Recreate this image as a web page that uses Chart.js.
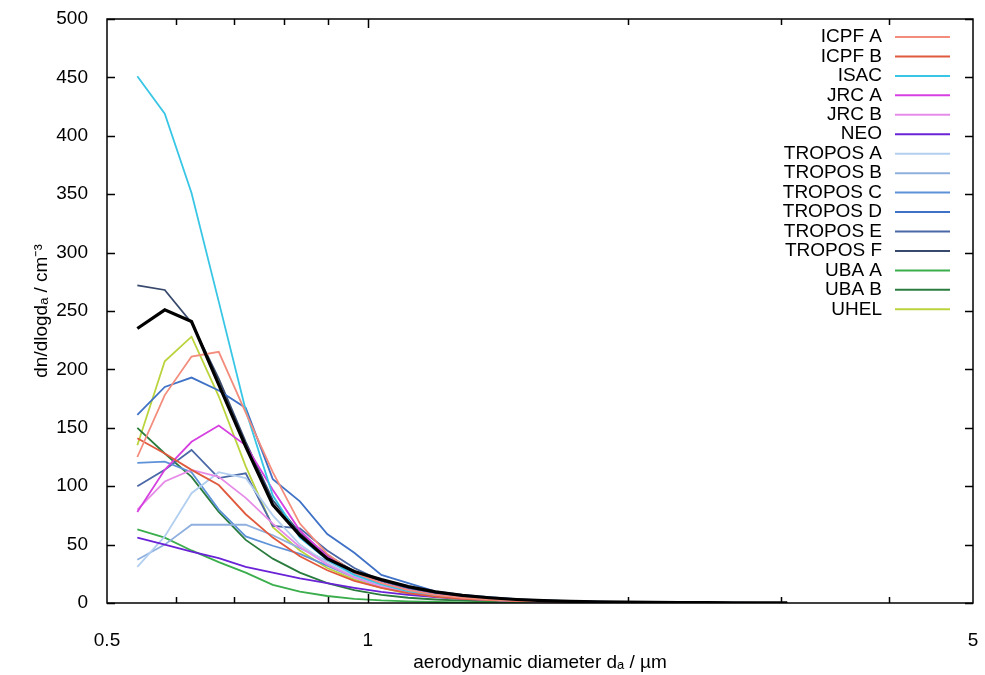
<!DOCTYPE html>
<html>
<head>
<meta charset="utf-8">
<script src="https://cdn.jsdelivr.net/npm/chart.js@4.4.1/dist/chart.umd.min.js"></script>
<style>
  html, body { margin: 0; padding: 0; background: #fff; }
  canvas { display: block; }
</style>
</head>
<body>
<canvas id="c" width="985" height="675"></canvas>
<script>
// aerodynamic diameter (APS channel midpoints), um
const diameters = [0.542, 0.583, 0.626, 0.673, 0.723, 0.777, 0.835, 0.898, 0.965, 1.037, 1.114, 1.197, 1.286,
  1.382, 1.486, 1.596, 1.715, 1.843, 1.981, 2.129, 2.288, 2.458, 2.642, 2.839, 3.051];

const icpfA   = [125, 178, 211, 215, 163, 112, 68, 42, 26, 17, 11, 7, 4.5, 3, 2, 1.4, 1, 0.7, 0.5, 0.4, 0.3, 0.2, 0.15, 0.1, 0.1];
const icpfB   = [141, 128, 114, 101, 76, 56, 40, 28, 19, 13, 8.5, 5.5, 3.6, 2.4, 1.6, 1.1, 0.8, 0.6, 0.4, 0.3, 0.2, 0.15, 0.1, 0.1, 0.05];
const isac    = [451, 419, 351, 258, 165, 92, 56, 37, 24, 16, 10, 6.5, 4.2, 2.8, 1.9, 1.3, 0.9, 0.6, 0.45, 0.3, 0.2, 0.15, 0.1, 0.1, 0.05];
const jrcA    = [78, 114, 138, 152, 135, 97, 62, 40, 26, 17, 11, 7, 4.5, 3, 2, 1.3, 0.9, 0.6, 0.45, 0.3, 0.2, 0.15, 0.1, 0.1, 0.05];
const jrcB    = [80, 104, 114, 108, 90, 68, 48, 33, 22, 14, 9, 6, 4, 2.6, 1.7, 1.2, 0.8, 0.6, 0.4, 0.3, 0.2, 0.15, 0.1, 0.1, 0.05];
const neo     = [56, 50, 44, 38.5, 31, 26, 21, 17, 13, 9.5, 7, 5, 3.5, 2.5, 1.8, 1.3, 0.9, 0.6, 0.45, 0.3, 0.2, 0.15, 0.1, 0.1, 0.05];
const troposA = [31, 57, 94, 112, 107, 75, 50, 34, 23, 15, 10, 6.5, 4.2, 2.8, 1.9, 1.3, 0.9, 0.6, 0.4, 0.3, 0.2, 0.15, 0.1, 0.1, 0.05];
const troposB = [37, 50, 67, 67, 67, 58, 47, 36, 25, 17, 11, 7, 4.6, 3, 2, 1.4, 1, 0.7, 0.5, 0.35, 0.25, 0.2, 0.15, 0.1, 0.05];
const troposC = [120, 121, 112, 80, 57, 49, 42, 32, 22, 14, 9, 6, 4, 2.7, 1.8, 1.2, 0.8, 0.6, 0.4, 0.3, 0.2, 0.15, 0.1, 0.1, 0.05];
const troposD = [161, 185, 193, 182, 167, 106, 87, 59, 43, 24, 17, 10, 7, 5, 3.4, 2.3, 1.6, 1.1, 0.8, 0.5, 0.35, 0.25, 0.2, 0.15, 0.1];
const troposE = [100, 114, 131, 107, 111, 66, 64, 45, 30, 19, 12, 8, 5, 3.4, 2.3, 1.5, 1, 0.7, 0.5, 0.35, 0.25, 0.2, 0.15, 0.1, 0.05];
const troposF = [272, 268, 240, 192, 138, 88, 60, 41, 27, 19, 13, 8.5, 5.7, 3.8, 2.6, 1.8, 1.2, 0.85, 0.6, 0.4, 0.3, 0.2, 0.15, 0.1, 0.05];
const ubaA    = [63, 56, 45, 35, 26, 15.5, 9.7, 6, 3.6, 2.2, 1.4, 0.9, 0.6, 0.4, 0.3, 0.2, 0.15, 0.1, 0.1, 0.05, 0.05, 0.03, 0.02, 0.02, 0.01];
const ubaB    = [150, 128, 108, 78, 54, 38, 26, 17, 11, 7, 4.5, 3, 2, 1.3, 0.9, 0.6, 0.4, 0.3, 0.2, 0.15, 0.1, 0.07, 0.05, 0.03, 0.02];
const uhel    = [135, 207, 228, 177, 117, 65, 45, 30, 20, 13, 8, 5.2, 3.4, 2.3, 1.5, 1, 0.7, 0.5, 0.35, 0.25, 0.2, 0.15, 0.1, 0.07, 0.05];
const mean    = [235, 251, 241, 187, 134, 84, 58, 38, 27, 20, 14, 9.5, 6.5, 4.5, 3, 2, 1.4, 1, 0.7, 0.5, 0.35, 0.25, 0.2, 0.15, 0.1];

const seriesNames = ['ICPF A', 'ICPF B', 'ISAC', 'JRC A', 'JRC B', 'NEO', 'TROPOS A', 'TROPOS B', 'TROPOS C',
  'TROPOS D', 'TROPOS E', 'TROPOS F', 'UBA A', 'UBA B', 'UHEL'];
const seriesValues = [icpfA, icpfB, isac, jrcA, jrcB, neo, troposA, troposB, troposC,
  troposD, troposE, troposF, ubaA, ubaB, uhel];
const seriesColors = ['#f38c7c', '#e05a3e', '#38c6e6', '#d640e0', '#e68ce8', '#6a22d6', '#b3cff0', '#8fb0de',
  '#5e92d8', '#3f72c6', '#4a68a6', '#37496c', '#3aad4c', '#2a7c3e', '#bbd33c'];

const yTicks = [0, 50, 100, 150, 200, 250, 300, 350, 400, 450, 500];
const xTickMarks = [0.6, 0.7, 0.8, 0.9, 1, 2, 3, 4];
const xLabels = [0.5, 1, 5];

const FONT = "'Liberation Sans', Arial, Helvetica, sans-serif";

const datasets = seriesNames.map((name, i) => ({
  label: name,
  data: diameters.map((d, j) => ({ x: d, y: seriesValues[i][j] })),
  borderColor: seriesColors[i],
  borderWidth: 1.8,
  pointRadius: 0,
  tension: 0,
  fill: false
}));
datasets.push({
  label: 'mean',
  data: diameters.map((d, j) => ({ x: d, y: mean[j] })),
  borderColor: '#000',
  borderWidth: 3.2,
  pointRadius: 0,
  tension: 0,
  fill: false,
  order: -1
});

// box, inward ticks and the legend inside the plot
const framePlugin = {
  id: 'frame',
  afterDraw(chart) {
    const { ctx, chartArea: a, scales: { x, y } } = chart;
    ctx.save();
    ctx.strokeStyle = '#000';
    ctx.lineWidth = 1.5;
    ctx.strokeRect(a.left, a.top, a.right - a.left, a.bottom - a.top);
    ctx.beginPath();
    yTicks.forEach(v => {
      const py = Math.round(y.getPixelForValue(v)) + 0.5;
      ctx.moveTo(a.left, py); ctx.lineTo(a.left + 8, py);
      ctx.moveTo(a.right, py); ctx.lineTo(a.right - 8, py);
    });
    xTickMarks.forEach(v => {
      const px = Math.round(x.getPixelForValue(v)) + 0.5;
      const len = v === 1 ? 9 : 6;
      ctx.moveTo(px, a.bottom); ctx.lineTo(px, a.bottom - len);
      ctx.moveTo(px, a.top); ctx.lineTo(px, a.top + len);
    });
    ctx.stroke();

    ctx.font = '19px ' + FONT;
    ctx.textAlign = 'right';
    ctx.textBaseline = 'middle';
    seriesNames.forEach((name, i) => {
      const ly = 37 + i * 19.45;
      ctx.fillStyle = '#000';
      ctx.fillText(name, 882, ly);
      ctx.strokeStyle = seriesColors[i];
      ctx.lineWidth = 2;
      ctx.beginPath();
      ctx.moveTo(895, ly); ctx.lineTo(950, ly);
      ctx.stroke();
    });
    ctx.restore();
  }
};

new Chart(document.getElementById('c'), {
  type: 'line',
  data: { datasets },
  options: {
    responsive: false,
    animation: false,
    devicePixelRatio: 1,
    layout: { padding: { top: 19, right: 12, left: 0, bottom: 0 } },
    plugins: { legend: { display: false }, tooltip: { enabled: false } },
    scales: {
      x: {
        type: 'logarithmic',
        min: 0.5,
        max: 5,
        grid: { display: false },
        border: { display: false },
        ticks: {
          autoSkip: false,
          maxRotation: 0,
          padding: 18,
          color: '#000',
          font: { family: FONT, size: 19 },
          callback: v => xLabels.some(l => Math.abs(l - v) < 1e-6) ? String(v) : ''
        },
        title: {
          display: true,
          text: 'aerodynamic diameter dₐ / µm',
          color: '#000',
          font: { family: FONT, size: 19 },
          padding: { top: 0, bottom: 1 }
        },
        afterFit: s => { s.height = 72; s.paddingLeft = 0; s.paddingRight = 0; }
      },
      y: {
        min: 0,
        max: 500,
        grid: { display: false },
        border: { display: false },
        ticks: {
          stepSize: 50,
          padding: 11,
          color: '#000',
          font: { family: FONT, size: 19 }
        },
        title: {
          display: true,
          text: 'dn/dlogdₐ / cm⁻³',
          color: '#000',
          font: { family: FONT, size: 19 },
          padding: { top: 30, bottom: 0 }
        },
        afterFit: s => { s.width = 107; s.paddingTop = 0; s.paddingBottom = 0; }
      }
    }
  },
  plugins: [framePlugin]
});
</script>
</body>
</html>
